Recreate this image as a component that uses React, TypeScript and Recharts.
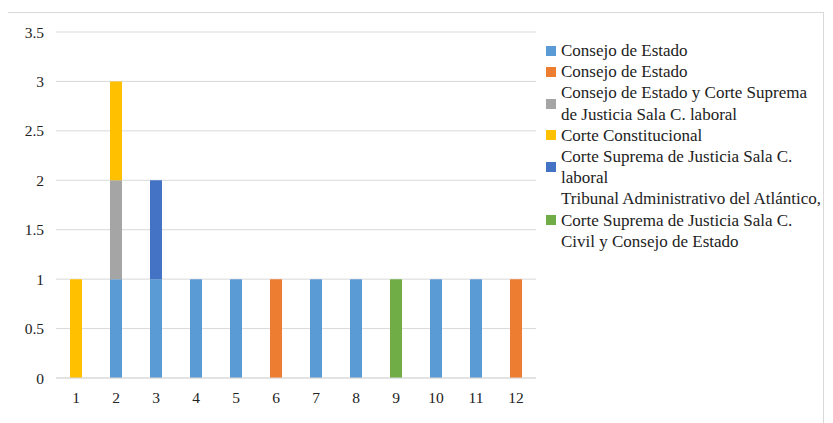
import { BarChart, Bar, XAxis, YAxis, CartesianGrid } from "recharts"

const categories = ["1", "2", "3", "4", "5", "6", "7", "8", "9", "10", "11", "12"]
const consejo = [0, 1, 1, 1, 1, 0, 1, 1, 0, 1, 1, 0]
const consejo2 = [0, 0, 0, 0, 0, 1, 0, 0, 0, 0, 0, 1]
const consejoCorte = [0, 1, 0, 0, 0, 0, 0, 0, 0, 0, 0, 0]
const constitucional = [1, 1, 0, 0, 0, 0, 0, 0, 0, 0, 0, 0]
const supremaLaboral = [0, 0, 1, 0, 0, 0, 0, 0, 0, 0, 0, 0]
const tribunal = [0, 0, 0, 0, 0, 0, 0, 0, 1, 0, 0, 0]
const yTicks = [0, 0.5, 1, 1.5, 2, 2.5, 3, 3.5]

const SERIES = [
  { key: "s1", name: "Consejo de Estado", color: "#5b9bd5", values: consejo },
  { key: "s2", name: "Consejo de Estado", color: "#ed7d31", values: consejo2 },
  { key: "s3", name: "Consejo de Estado y Corte Suprema de Justicia Sala C. laboral", color: "#a5a5a5", values: consejoCorte },
  { key: "s4", name: "Corte Constitucional", color: "#ffc000", values: constitucional },
  { key: "s5", name: "Corte Suprema de Justicia Sala C. laboral", color: "#4472c4", values: supremaLaboral },
  { key: "s6", name: "Tribunal Administrativo del Atlántico, Corte Suprema de Justicia Sala C. Civil y Consejo de Estado", color: "#70ad47", values: tribunal },
]

const data = categories.map((c, i) => {
  const row: any = { name: c }
  SERIES.forEach((s) => (row[s.key] = s.values[i]))
  return row
})

const FONT = '"Liberation Serif", "Times New Roman", serif'

// legend drawn as plain html on the right, recharts Legend eats plot space
const LegendBox = () => (
  <div style={{ position: "absolute", left: 538, top: 27, fontFamily: FONT, fontSize: 17, lineHeight: "21.2px", color: "#222" }}>
    {SERIES.map((s) => (
      <div key={s.key} style={{ display: "flex", alignItems: "center" }}>
        <span style={{ width: 10, height: 10, background: s.color, flex: "0 0 10px", marginRight: 5 }} />
        <span style={{ width: 263 }}>{s.name}</span>
      </div>
    ))}
  </div>
)

export default function App() {
  return (
    <div style={{ width: 815, height: 420, marginTop: 4, marginLeft: -1, border: "1px solid #d9d9d9", position: "relative" }}>
      <BarChart width={540} height={400} data={data} margin={{ top: 19, right: 12, left: 0, bottom: 0 }}>
        <CartesianGrid vertical={false} stroke="#d9d9d9" />
        <XAxis
          dataKey="name"
          height={35}
          tickLine={false}
          axisLine={{ stroke: "#d9d9d9" }}
          tick={{ fill: "#222", fontSize: 15.5, fontFamily: FONT }}
          tickMargin={8}
        />
        <YAxis
          width={48}
          domain={[0, 3.5]}
          ticks={yTicks}
          axisLine={false}
          tickLine={false}
          tickSize={0}
          tickMargin={12}
          tick={{ fill: "#222", fontSize: 15.5, fontFamily: FONT }}
        />
        {SERIES.map((s) => (
          <Bar key={s.key} dataKey={s.key} name={s.name} stackId="a" fill={s.color} barSize={12} isAnimationActive={false} />
        ))}
      </BarChart>
      <LegendBox />
    </div>
  )
}
